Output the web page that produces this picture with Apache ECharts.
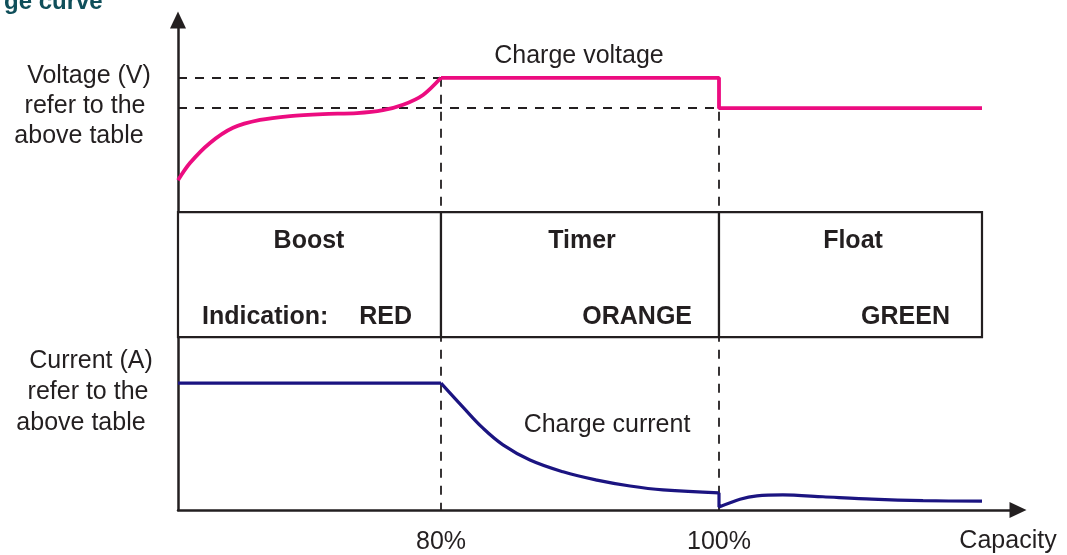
<!DOCTYPE html>
<html>
<head>
<meta charset="utf-8">
<script src="https://cdn.jsdelivr.net/npm/echarts@6/dist/echarts.min.js"></script>
<style>
  html, body { margin: 0; padding: 0; background: #fff; }
  #chart { width: 1067px; height: 555px; }
</style>
</head>
<body>
<div id="chart"></div>
<script>
// capacity axis (in %), only 80 and 100 are labelled
const xMin = 61.08;
const xMax = 121.51;
const xTickLabels = [80, 100];

// voltage curve: rising part, then charge plateau and float level
const voltageRiseX = [61.08, 61.94, 63.38, 65.04, 66.98, 69.14, 71.51, 73.96, 75.83, 77.27, 78.71, 80];
const voltageRiseY = [67.3, 70.8, 74.9, 78.0, 79.6, 80.4, 80.8, 81.0, 81.6, 82.7, 84.7, 88.2];
const voltageStepX = [80, 100, 100, 118.92];
const voltageStepY = [88.2, 88.2, 82.0, 82.0];

// current curve: boost (flat), timer (decay), float
const currentBoostX = [61.08, 80];
const currentBoostY = [25.9, 25.9];
const currentDecayX = [80, 81.58, 83.02, 84.46, 86.4, 88.78, 91.22, 93.6, 95.97, 100];
const currentDecayY = [25.9, 21.0, 16.7, 13.3, 10.2, 7.8, 6.1, 4.9, 4.1, 3.5];
const currentFloatX = [100, 100, 101.51, 102.73, 104.6, 107.48, 111.0, 114.68, 118.92];
const currentFloatY = [3.5, 0.6, 2.2, 2.9, 3.1, 2.7, 2.2, 1.9, 1.8];

// reference levels (dashed guides)
const chargeLevel = 88.2;
const floatLevel = 82.0;

// table of phases
const phaseBounds = [61.08, 80, 100, 118.92];
const phaseNames = ['Boost', 'Timer', 'Float'];
const indications = ['RED', 'ORANGE', 'GREEN'];
const tableTop = 60.8;
const tableBottom = 35.3;

const ink = '#231f20';
const pink = '#ec0c80';
const navy = '#1b1481';
const font = '"Liberation Sans", Arial, sans-serif';

const zip = (xs, ys) => xs.map((x, i) => [x, ys[i]]);

const dash = { type: [9, 8], color: ink, width: 1.8 };

const chart = echarts.init(document.getElementById('chart'));

const txt = (x, y, text, opts) => ({
  type: 'text',
  x: x, y: y,
  z: 100,
  style: Object.assign({
    text: text,
    font: '25px ' + font,
    fill: ink,
    align: 'center',
    verticalAlign: 'middle'
  }, opts || {})
});

const bold = { font: 'bold 25px ' + font };

const axisLine = {
  show: true,
  lineStyle: { color: ink, width: 2.5 },
  symbol: ['none', 'triangle'],
  symbolSize: [16, 17]
};

const lineSeries = (name, data, color, width, smooth) => ({
  name: name,
  type: 'line',
  data: data,
  smooth: smooth,
  showSymbol: false,
  lineStyle: { color: color, width: width },
  z: 5
});

chart.setOption({
  animation: false,
  backgroundColor: '#fff',
  grid: { left: 178, right: 49, top: 20, bottom: 45 },
  xAxis: {
    type: 'value',
    min: xMin,
    max: xMax,
    splitLine: { show: false },
    axisTick: { show: false },
    axisLine: axisLine,
    axisLabel: {
      customValues: xTickLabels,
      formatter: '{value}%',
      fontSize: 25,
      fontFamily: font,
      color: ink,
      margin: 20
    }
  },
  yAxis: {
    type: 'value',
    min: 0,
    max: 100,
    splitLine: { show: false },
    axisTick: { show: false },
    axisLabel: { show: false },
    axisLine: axisLine
  },
  series: [
    {
      name: 'guides',
      type: 'line',
      data: [],
      markLine: {
        silent: true,
        symbol: 'none',
        label: { show: false },
        lineStyle: dash,
        data: [
          [{ coord: [xMin, chargeLevel] }, { coord: [phaseBounds[1], chargeLevel] }],
          [{ coord: [xMin, floatLevel] }, { coord: [phaseBounds[2], floatLevel] }],
          [{ coord: [phaseBounds[1], chargeLevel] }, { coord: [phaseBounds[1], 0] }],
          [{ coord: [phaseBounds[2], chargeLevel] }, { coord: [phaseBounds[2], 0] }]
        ]
      },
      markArea: {
        silent: true,
        itemStyle: { color: '#fff', borderColor: ink, borderWidth: 2.2 },
        data: phaseNames.map((n, i) => [
          { xAxis: phaseBounds[i], yAxis: tableTop },
          { xAxis: phaseBounds[i + 1], yAxis: tableBottom }
        ])
      }
    },
    lineSeries('voltage rise', zip(voltageRiseX, voltageRiseY), pink, 3.8, 0.3),
    lineSeries('voltage step', zip(voltageStepX, voltageStepY), pink, 3.8, false),
    lineSeries('current boost', zip(currentBoostX, currentBoostY), navy, 3.2, false),
    lineSeries('current decay', zip(currentDecayX, currentDecayY), navy, 3.2, 0.4),
    lineSeries('current float', zip(currentFloatX, currentFloatY), navy, 3.2, 0.3)
  ],
  graphic: [
    txt(4, 2, 'ge curve', { font: 'bold 24px ' + font, fill: '#0f4f5a', align: 'left' }),
    txt(89, 76, 'Voltage (V)'),
    txt(85, 106, 'refer to the'),
    txt(79, 136, 'above table'),
    txt(91, 361, 'Current (A)'),
    txt(88, 392, 'refer to the'),
    txt(81, 423, 'above table'),
    txt(579, 56, 'Charge voltage'),
    txt(607, 425, 'Charge current'),
    txt(1008, 541, 'Capacity'),
    txt(309, 241, phaseNames[0], bold),
    txt(582, 241, phaseNames[1], bold),
    txt(853, 241, phaseNames[2], bold),
    txt(202, 317, 'Indication:', Object.assign({ align: 'left' }, bold)),
    txt(412, 317, indications[0], Object.assign({ align: 'right' }, bold)),
    txt(692, 317, indications[1], Object.assign({ align: 'right' }, bold)),
    txt(950, 317, indications[2], Object.assign({ align: 'right' }, bold))
  ]
});
</script>
</body>
</html>
